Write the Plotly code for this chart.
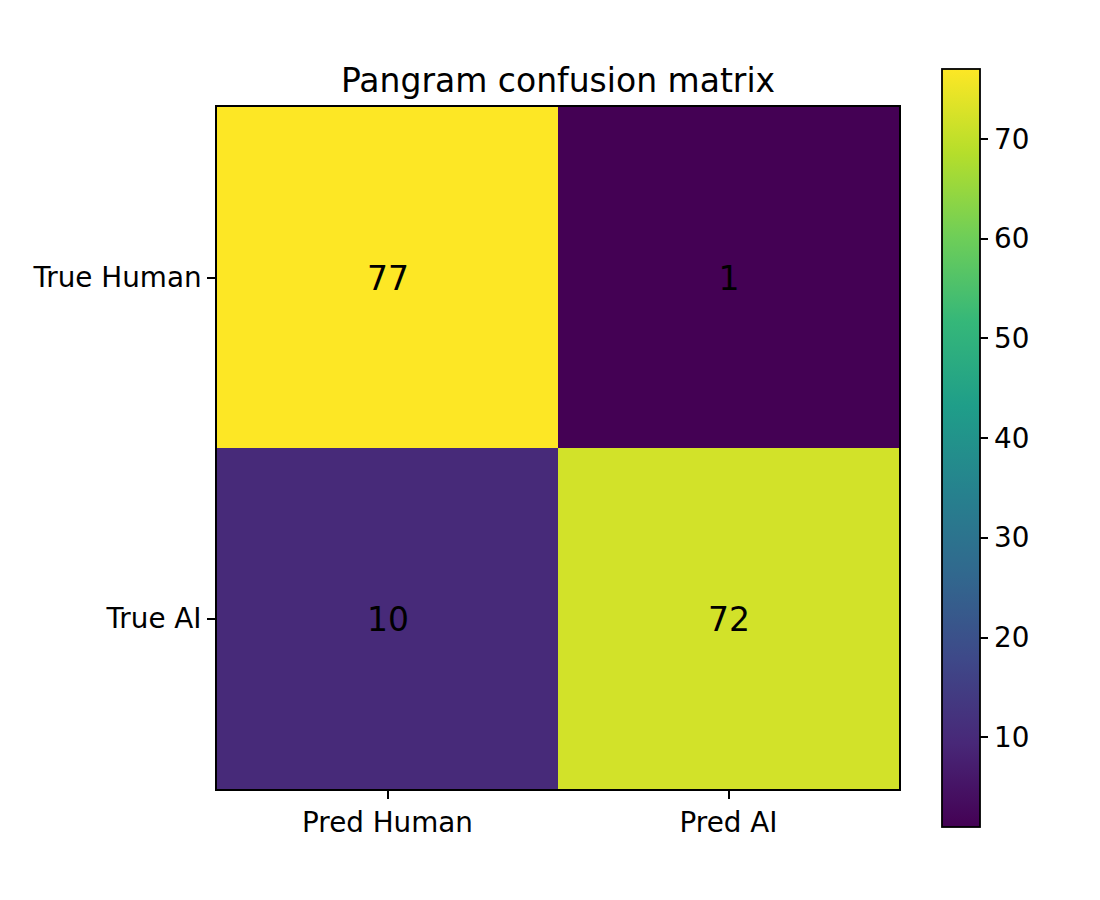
import plotly.graph_objects as go

x_labels = ["Pred Human", "Pred AI"]
y_labels = ["True Human", "True AI"]
counts = [[77, 1], [10, 72]]
cbar_ticks = [10, 20, 30, 40, 50, 60, 70]

W, H = 1100, 900
px0, px1, py0, py1 = 217, 899, 107, 789
cx0, cx1, cy0, cy1 = 942, 980, 69, 827

font = "DejaVu Sans"
tick_size = 27.8

fig = go.Figure(go.Heatmap(
    z=counts, x=x_labels, y=y_labels,
    colorscale="Viridis", zmin=1, zmax=77,
    text=[[str(v) for v in row] for row in counts],
    texttemplate="%{text}",
    textfont=dict(family=font, size=33, color="black"),
    xgap=0, ygap=0,
    colorbar=dict(
        x=cx0 / W, xanchor="left", xref="paper",
        y=1 - cy0 / H, yanchor="top", yref="paper",
        len=(cy1 - cy0) / H, lenmode="fraction",
        thickness=cx1 - cx0, thicknessmode="pixels",
        outlinewidth=1.8, outlinecolor="black",
        tickvals=cbar_ticks, ticks="outside", ticklen=8, tickwidth=1.8, tickcolor="black",
        tickfont=dict(family=font, size=tick_size, color="black"),
        xpad=0, ypad=0,
    ),
    hoverinfo="skip",
))

fig.update_layout(
    width=W, height=H,
    margin=dict(l=0, r=0, t=0, b=0),
    plot_bgcolor="white", paper_bgcolor="white",
    title=dict(text="Pangram confusion matrix", x=(px0 + px1) / 2 / W, xanchor="center",
               y=1 - 80 / H, yanchor="middle",
               font=dict(family=font, size=33, color="black")),
    xaxis=dict(domain=[px0 / W, px1 / W], showline=True, linecolor="black", linewidth=1.8,
               mirror=True, ticks="outside", ticklen=8, tickwidth=1.8, tickcolor="black",
               tickfont=dict(family=font, size=tick_size, color="black"), showgrid=False, zeroline=False),
    yaxis=dict(domain=[1 - py1 / H, 1 - py0 / H], showline=True, linecolor="black", linewidth=1.8,
               mirror=True, ticks="outside", ticklen=8, tickwidth=1.8, tickcolor="black",
               tickfont=dict(family=font, size=tick_size, color="black"), showgrid=False, zeroline=False,
               autorange="reversed"),
    showlegend=False,
)

fig.write_html("out.html")
